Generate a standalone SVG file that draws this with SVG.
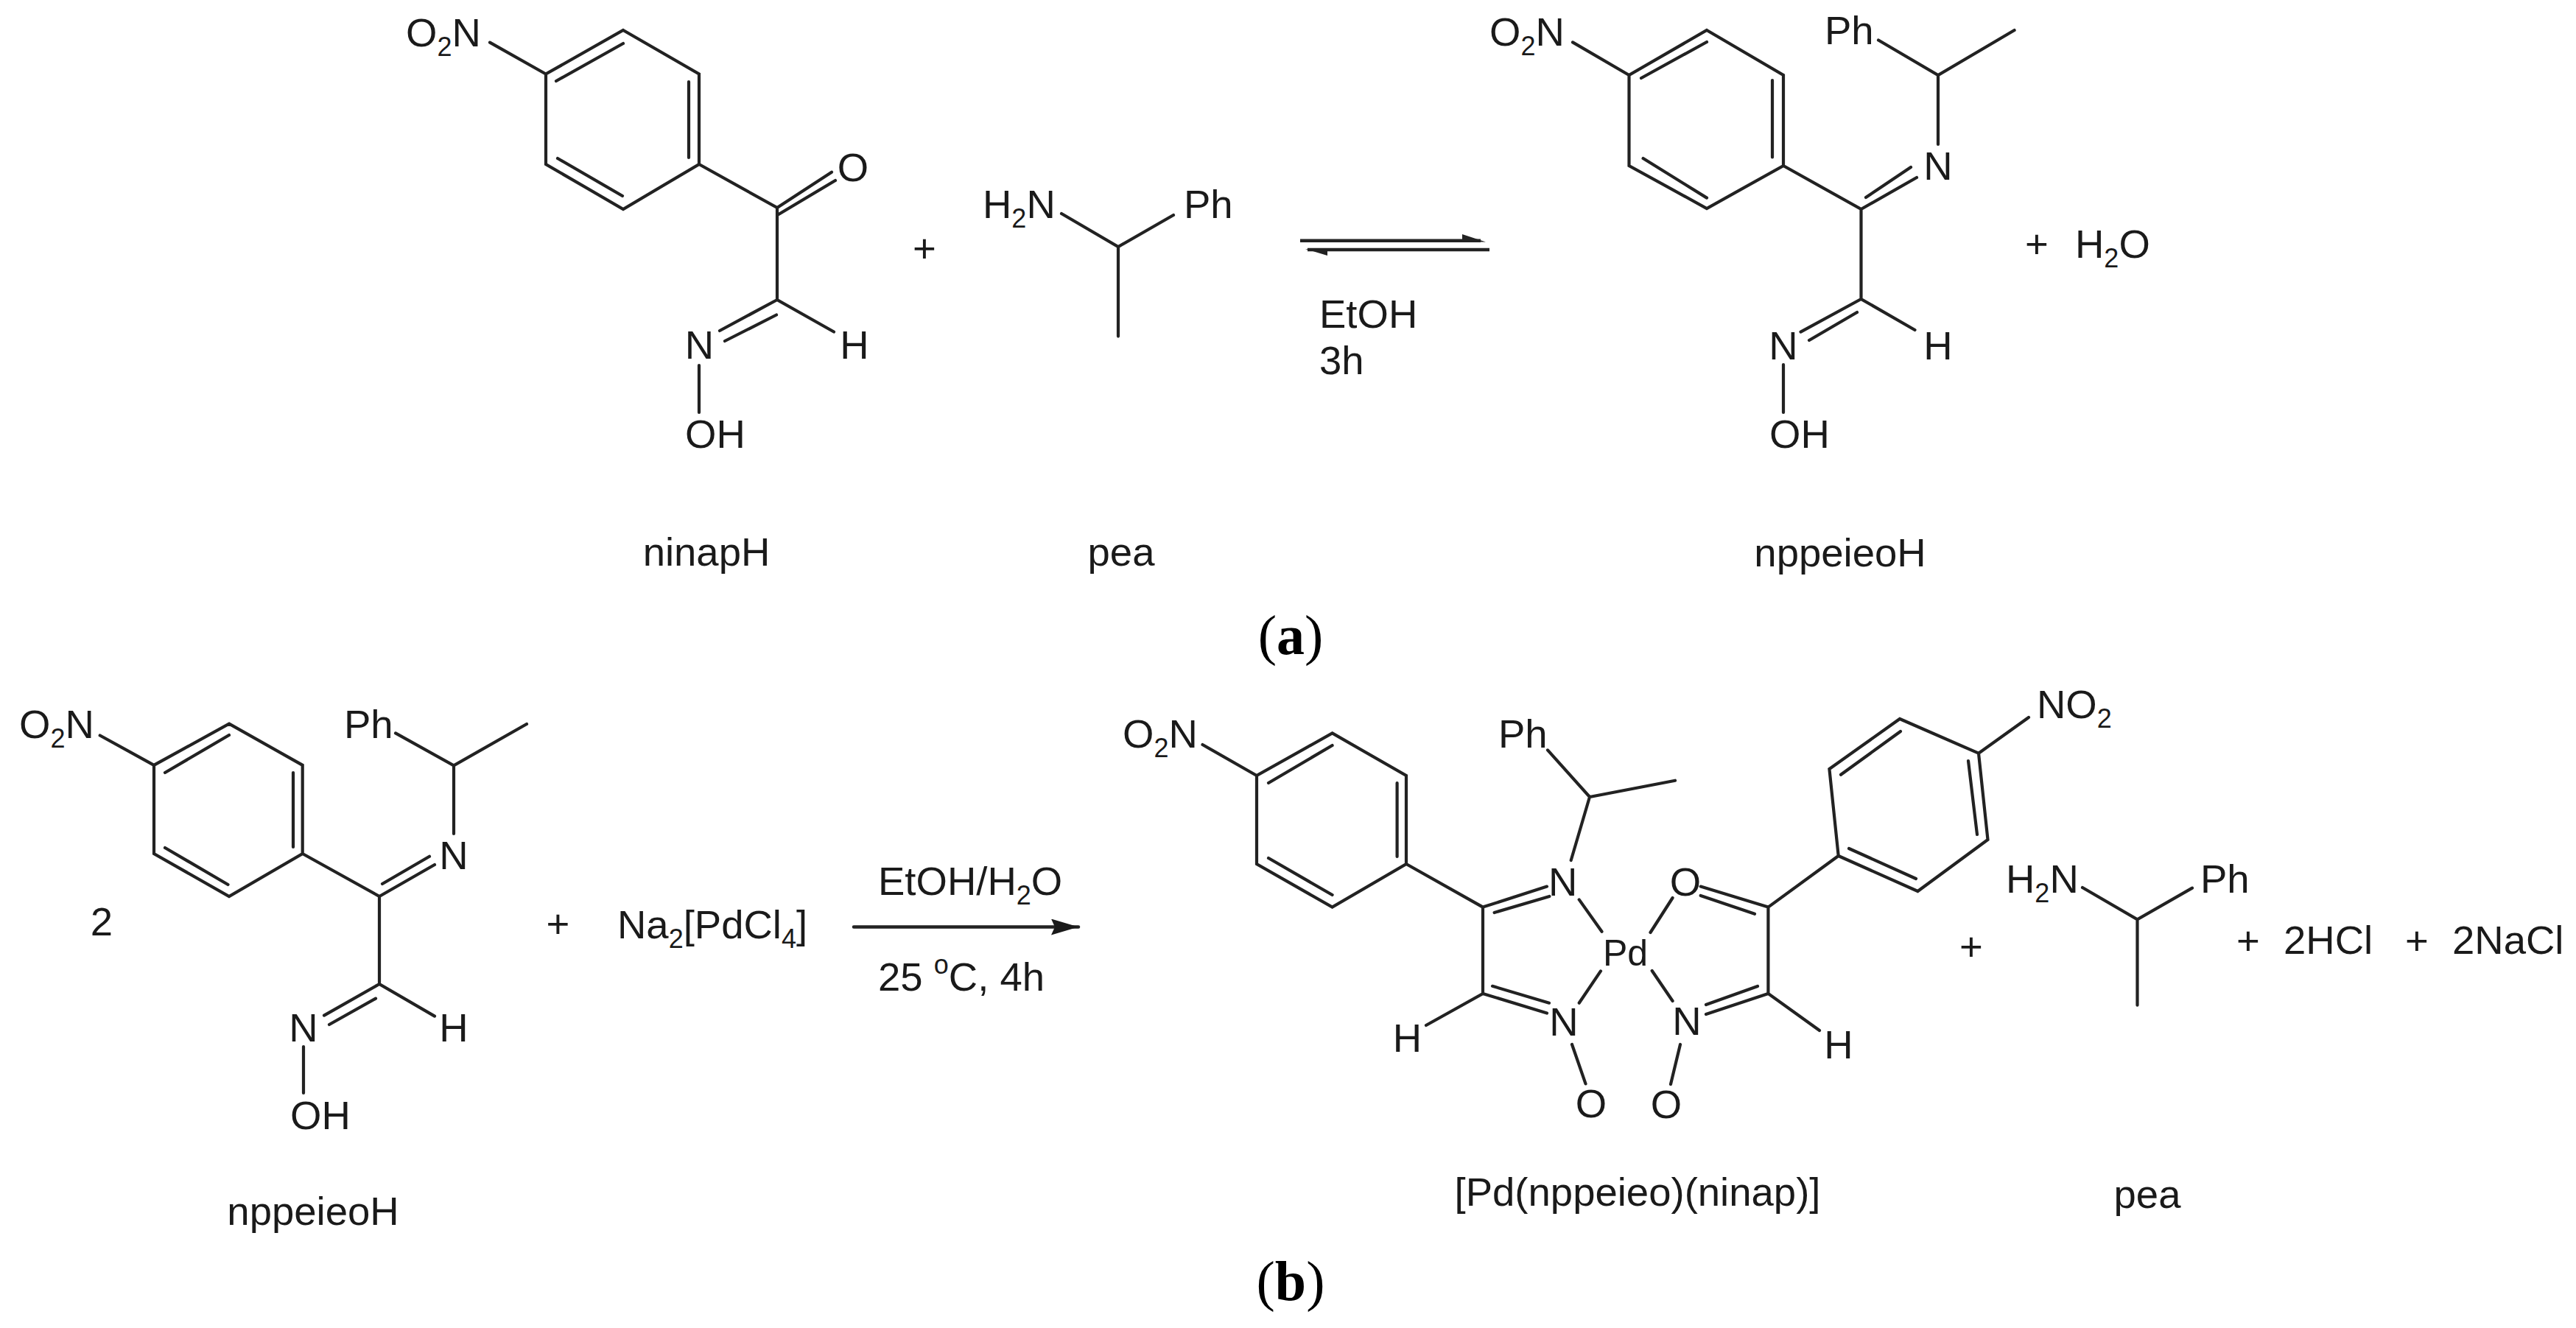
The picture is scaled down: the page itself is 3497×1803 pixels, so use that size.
<svg xmlns="http://www.w3.org/2000/svg" width="3497" height="1803" viewBox="0 0 3497 1803">
<defs>
<marker id="head" markerUnits="userSpaceOnUse" markerWidth="40" markerHeight="24" refX="37" refY="11" orient="auto"><path d="M0 0L37 11L0 22L5 11Z" fill="#1a1a1a"/></marker>
</defs>
<style>
.b{fill:none;stroke:#222;stroke-width:4.2;stroke-linecap:round;stroke-linejoin:miter}
text{font-family:"Liberation Sans",Arial,sans-serif;font-size:54.5px;fill:#1a1a1a}
.m{text-anchor:middle}
.s{font-size:36px}
.p{font-family:"Liberation Serif","Times New Roman",serif;font-size:76px;fill:#000;text-anchor:middle}
.p .bd{font-weight:bold}
</style>
<rect width="3497" height="1803" fill="#fff"/>

<g id="ninapH">
<path class="b" d="M846 41L949 100.500V223L846 284L741 223V100.500ZM755 110L846 59M935 111V214M757 215L845 266M665 57.600L741 100.500M949 223L1055 282V407L1132 450.500M1055 282L1129 233.700M1057 291L1134 245M1055 407L977 449M984 463L1054 427.500M949 496V560"/>
<text x="551" y="63">O<tspan class="s" dy="13">2</tspan><tspan dy="-13">N</tspan></text>
<text class="m" x="1158" y="246">O</text>
<text class="m" x="949.500" y="487">N</text>
<text class="m" x="1160" y="487">H</text>
<text x="930" y="608">OH</text>
<text class="m" x="959" y="768">ninapH</text>
</g>
<g id="plus-a1"><text class="m" x="1255" y="356">+</text></g>

<g id="pea-a">
<path class="b" d="M1441 290L1518 335L1593 292M1518 335V456.600"/>
<text x="1334" y="296">H<tspan class="s" dy="13">2</tspan><tspan dy="-13">N</tspan></text>
<text x="1607" y="296">Ph</text>
<text class="m" x="1522" y="768">pea</text>
</g>

<g id="conditions-a">
<text x="1791" y="445">EtOH</text>
<text x="1791" y="508">3h</text>
</g>

<g id="nppeieoH-a">
<path class="b" d="M2317 41L2421 102V225L2317 283L2211.500 225V102ZM2228 106L2317 57M2406 109V213.500M2230.600 215L2317 268.600M2135 57.400L2211.500 102M2421 225L2526.500 284V406L2599.500 448M2526.500 284L2602 241M2533 268L2594 227M2526.500 406L2444.500 450.600M2456 462L2521 424M2421 495V560M2550 54.500L2631 102L2734.600 41M2631 102V196"/>
<text x="2022" y="62">O<tspan class="s" dy="13">2</tspan><tspan dy="-13">N</tspan></text>
<text x="2477" y="60">Ph</text>
<text class="m" x="2631" y="244">N</text>
<text class="m" x="2421" y="488">N</text>
<text class="m" x="2631" y="488">H</text>
<text x="2402" y="608">OH</text>
<text class="m" x="2498" y="769">nppeieoH</text>
</g>
<g id="water">
<text class="m" x="2765" y="350">+</text>
<text x="2817" y="350">H<tspan class="s" dy="13">2</tspan><tspan dy="-13">O</tspan></text>
</g>

<g id="label-a"><text class="p" x="1752" y="888">(<tspan class="bd">a</tspan>)</text></g>

<g id="nppeieoH-b">
<path class="b" d="M311 982.700L410.700 1038.800V1159L311 1217L209 1159V1038.800ZM224 1049L311 998M398 1049V1150M224 1151L309.500 1201M135.700 998.500L209 1038.800M410.700 1159L515 1217V1336L590 1379.600M515 1217L590 1174M519 1200L583 1162.800M515 1336L440 1378.600M447 1391L510 1355.600M412 1421V1484M537 995.400L616 1039.300L715 983M616 1039.300V1132"/>
<text x="26" y="1002">O<tspan class="s" dy="13">2</tspan><tspan dy="-13">N</tspan></text>
<text x="467" y="1002">Ph</text>
<text class="m" x="616" y="1180">N</text>
<text class="m" x="412" y="1414">N</text>
<text class="m" x="616" y="1414">H</text>
<text x="394" y="1533">OH</text>
<text class="m" x="138" y="1270">2</text>
<text class="m" x="425" y="1663">nppeieoH</text>
</g>
<g id="reagent-b">
<text class="m" x="757.500" y="1273">+</text>
<text x="838" y="1274">Na<tspan class="s" dy="13">2</tspan><tspan dy="-13">[PdCl</tspan><tspan class="s" dy="13">4</tspan><tspan dy="-13">]</tspan></text>
</g>
<g id="conditions-b">
<text x="1192" y="1215">EtOH/H<tspan class="s" dy="13">2</tspan><tspan dy="-13">O</tspan></text>
<text x="1192" y="1345">25 <tspan class="s" dy="-23">o</tspan><tspan dy="23">C, 4h</tspan></text>
</g>

<g id="complex">
<path class="b" d="M1808.600 995.400L1909 1053V1173L1808.600 1231.600L1706 1173V1053ZM1722 1063L1808.600 1012M1896.600 1063V1163M1722 1165L1808.600 1215M1632.500 1011L1706 1053M1909 1173L2013 1231.600V1349L1936 1392M2013 1231.600L2100 1203.600M2028.600 1239L2103.400 1217M2013 1349L2100 1375.500M2026 1338.800L2103 1361.700M2101 1018.400L2158 1082L2274 1059.700M2158 1082L2132.700 1168M2143.700 1221.400L2174.500 1264.800M2173 1318.400L2143.700 1361.700M2134 1418L2152.500 1471.400M2240.500 1266L2270.600 1219M2242.700 1318L2270.600 1359M2281 1418L2268 1472M2308.700 1203.600L2400.400 1231.600M2308.700 1216L2382 1240.800M2400.400 1231.600V1349L2470 1399M2400.400 1349L2316 1377M2386 1339L2316 1364M2400.400 1231.600L2495.700 1162L2603.400 1210L2698.500 1140L2686 1022.700L2579 976L2483.400 1044L2495.700 1162M2499 1051.700L2580 993M2672 1033L2684 1133M2510 1152L2601 1193M2686 1022.700L2754 974"/>
<text x="1524" y="1015">O<tspan class="s" dy="13">2</tspan><tspan dy="-13">N</tspan></text>
<text x="2034" y="1015">Ph</text>
<text class="m" x="2121.700" y="1216">N</text>
<text class="m" x="2123" y="1406">N</text>
<text class="m" x="1910.500" y="1428">H</text>
<text class="m" x="2160" y="1517">O</text>
<text x="2176" y="1311" style="font-size:50px">Pd</text>
<text class="m" x="2288" y="1216">O</text>
<text class="m" x="2290" y="1405">N</text>
<text class="m" x="2262" y="1518">O</text>
<text class="m" x="2496" y="1437">H</text>
<text x="2765" y="975">NO<tspan class="s" dy="13">2</tspan></text>
<text class="m" x="2223" y="1637">[Pd(nppeieo)(ninap)]</text>
</g>
<g id="plus-b1"><text class="m" x="2676" y="1304">+</text></g>

<g id="pea-b">
<path class="b" d="M2827 1205L2901.500 1248.400L2976 1205.600M2901.500 1248.400V1364.700"/>
<text x="2723" y="1212">H<tspan class="s" dy="13">2</tspan><tspan dy="-13">N</tspan></text>
<text x="2987" y="1212">Ph</text>
<text class="m" x="2915" y="1640">pea</text>
</g>
<g id="byproducts">
<text class="m" x="3052" y="1296">+</text>
<text x="3100" y="1295">2HCl</text>
<text class="m" x="3281" y="1296">+</text>
<text x="3329" y="1295">2NaCl</text>
</g>

<g id="label-b"><text class="p" x="1752" y="1765">(<tspan class="bd">b</tspan>)</text></g>

<g id="connectors">
<path class="b" style="stroke-width:4.500;stroke-linecap:butt" d="M1765 326.700H2010M1775 339H2022"/>
<path fill="#222" d="M1985 318L2017 328.500H1985ZM1802 347L1772 338H1802Z"/>
<path class="b" style="stroke-width:4.500" d="M1159 1258.500H1464" marker-end="url(#head)"/>
</g>
</svg>
